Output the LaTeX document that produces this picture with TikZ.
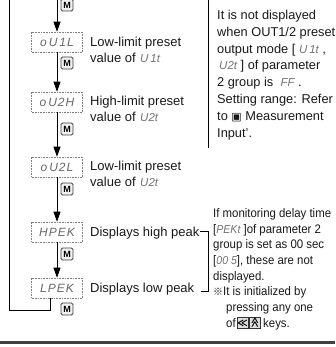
\documentclass[tikz,border=0pt]{standalone}
\usepackage{fontspec}
\setmainfont{Liberation Sans}
\newfontfamily\narrowfont[FakeStretch=0.92]{Liberation Sans}
\newfontfamily\symfont{DejaVu Sans}
\newfontfamily\cjkfont{Noto Sans CJK JP}
\usetikzlibrary{arrows.meta}
\newcommand{\sg}[1]{{\fontsize{11.5}{11.5}\selectfont\itshape\color{black!55}#1}}
\begin{document}
\begin{tikzpicture}[x=1pt,y=-1pt,
  disp/.style={draw=black!50, densely dotted, line width=0.6pt, minimum width=51pt, minimum height=20pt, inner sep=0pt, font=\itshape\fontsize{12}{12}\selectfont, text=black!60},
  mkey/.style={draw=black!75, line width=0.8pt, fill=black!6, rounded corners=1.5pt, minimum width=12pt, minimum height=12pt, inner sep=0pt, font=\bfseries\fontsize{9}{9}\selectfont},
  lbl/.style={anchor=base west, inner sep=0pt, font=\fontsize{13}{13}\selectfont, text=black!90},
  note/.style={anchor=base west, inner sep=0pt, font=\fontsize{12.8}{12.8}\selectfont, text=black!90},
  note2/.style={anchor=base west, inner sep=0pt, font=\narrowfont\fontsize{12.4}{12.4}\selectfont, text=black!90},
  flow/.style={line width=0.8pt, -{Triangle[length=10pt,width=7pt]}},
  wire/.style={line width=0.8pt},
  keyicon/.style={draw=black!80, fill=black!12, line width=0.6pt, minimum size=11pt, inner sep=0pt, font=\symfont\bfseries\fontsize{10}{10}\selectfont}
]
\useasboundingbox (0,0) rectangle (335,347);

% display boxes
\node[disp] (b1) at (57,42)  {o\kern2pt U\kern2pt 1\kern1pt L};
\node[disp] (b2) at (57,102) {o\kern2pt U\kern1pt 2\kern1pt H};
\node[disp] (b3) at (57,167) {o\kern2pt U\kern1pt 2\kern1pt L};
\node[disp] (b4) at (57,232) {H\kern1pt P\kern1pt E\kern1pt K};
\node[disp] (b5) at (57,288) {L\kern1pt P\kern1pt E\kern1pt K};

% M keys
\node[mkey] (m0) at (67,5)   {M};
\node[mkey] (m1) at (67,63)  {M};
\node[mkey] (m2) at (67,129) {M};
\node[mkey] (m3) at (67,189) {M};
\node[mkey] (m4) at (67,254) {M};
\node[mkey] (m5) at (67,309) {M};

% flow
\coordinate (top) at (57,0);
\draw[flow] (top) -- (b1.north);
\draw[flow] (b1.south) -- (b2.north);
\draw[flow] (b2.south) -- (b3.north);
\draw[flow] (b3.south) -- (b4.north);
\draw[flow] (b4.south) -- (b5.north);
\coordinate (lb) at (9,310);
\coordinate (lt) at (9,0);
\draw[wire] ([xshift=-7pt]b5.south) |- (lb) -- (lt);

% left labels
\node[lbl] (l1a) at (90,46.5)  {Low-limit preset};
\node[lbl] (l1b) at (90,62.5)  {value of};
\node[lbl] (s1)  at (140,62.5) {\sg{U\kern2pt 1t}};
\node[lbl] (l2a) at (90,105.5) {High-limit preset};
\node[lbl] (l2b) at (90,121.5) {value of};
\node[lbl] (s2)  at (140,121.5) {\sg{U2t}};
\node[lbl] (l3a) at (90,170.5) {Low-limit preset};
\node[lbl] (l3b) at (90,186.5) {value of};
\node[lbl] (s3)  at (140,186.5) {\sg{U2t}};
\node[lbl] (l4)  at (90,236)   {Displays high peak};
\node[lbl] (l5)  at (90,292.5) {Displays low peak};

% right top note
\coordinate (r1) at (208,0);
\coordinate (r2) at (208,148);
\draw[wire] (r1) -- (r2);
\node[note] (n1) at (217,19.5)  {It is not displayed};
\node[note] (n2) at (217,36.3)  {when OUT1/2 preset};
\node[note] (n3) at (217,53.1)  {output mode [ \sg{U\kern2pt 1t} ,};
\node[note] (n4) at (219,69.9)  {\sg{U2t} ] of parameter};
\node[note] (n5) at (217,86.7)  {2 group is \ \sg{FF} .};
\node[note] (n6) at (217,103.5) {Setting range: Refer};
\node[note] (n7) at (217,120.3) {to {\symfont\fontsize{11}{11}\selectfont ▣} Measurement};
\node[note] (n8) at (217,137.1) {Input'.};

% bracket
\coordinate (br1) at (200,231);
\coordinate (br2) at (208,231);
\coordinate (br3) at (208,291);
\coordinate (br4) at (201,291);
\draw[wire] (br1) -- (br2) -- (br3) -- (br4);

% right bottom note
\node[note2] (p1) at (213,217.3) {If monitoring delay time};
\node[note2] (p2) at (213,233.0) {[\sg{PEKt} ]of parameter 2};
\node[note2] (p3) at (213,248.7) {group is set as 00 sec};
\node[note2] (p4) at (213,264.4) {[\sg{00 5}], these are not};
\node[note2] (p5) at (213,280.1) {displayed.};
\node[note2] (p6) at (213,295.8) {{\cjkfont\fontsize{10}{10}\selectfont ※}It is initialized by};
\node[note2] (p7) at (226,311.5) {pressing any one};
\node[note2] (p8) at (226,327.2) {of};
\node[keyicon] (k1) at (242.5,323) {≪};
\node[keyicon] (k2) at (255,323) {\rotatebox{-90}{≪}};
\node[note2] (p9) at (263,327.2) {keys.};

% bottom rule
\coordinate (bl) at (0,342);
\coordinate (bR) at (335,342);
\draw[line width=3pt, black!75] (bl) -- (bR);
\end{tikzpicture}
\end{document}
